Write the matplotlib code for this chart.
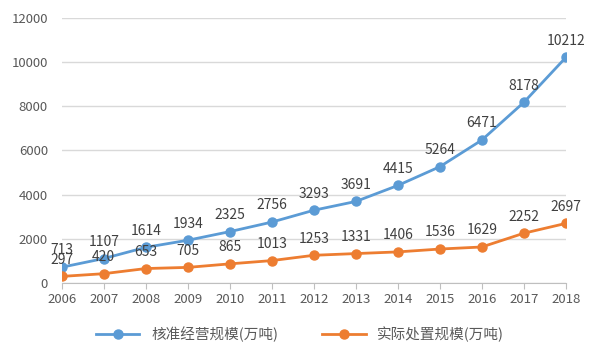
import matplotlib
matplotlib.use('Agg')
import matplotlib.pyplot as plt

plt.rcParams['font.family'] = ['Noto Sans CJK SC', 'DejaVu Sans']

years = ['2006', '2007', '2008', '2009', '2010', '2011', '2012',
         '2013', '2014', '2015', '2016', '2017', '2018']
approved = [713, 1107, 1614, 1934, 2325, 2756, 3293, 3691, 4415, 5264, 6471, 8178, 10212]
actual = [297, 420, 653, 705, 865, 1013, 1253, 1331, 1406, 1536, 1629, 2252, 2697]

blue = '#5B9BD5'
orange = '#ED7D31'
txt = '#595959'

fig = plt.figure(figsize=(6, 3.6), dpi=100)
ax = fig.add_axes([0.103, 0.214, 0.84, 0.736])

x = range(len(years))
ax.plot(x, approved, color=blue, lw=2, marker='o', ms=6.5, label='核准经营规模(万吨)')
ax.plot(x, actual, color=orange, lw=2, marker='o', ms=6.5, label='实际处置规模(万吨)')

for i in x:
    ax.annotate(str(approved[i]), (i, approved[i]), xytext=(0, 7), textcoords='offset points',
                ha='center', va='bottom', fontsize=10, color='#404040')
    ax.annotate(str(actual[i]), (i, actual[i]), xytext=(0, 7), textcoords='offset points',
                ha='center', va='bottom', fontsize=10, color='#404040')

ax.set_xlim(0, len(years) - 1)
ax.set_ylim(0, 12000)
ax.set_yticks(range(0, 12001, 2000))
ax.set_xticks(list(x))
ax.set_xticklabels(years)
ax.tick_params(axis='y', length=0, labelsize=9.5, colors=txt, pad=10)
ax.tick_params(axis='x', length=4, labelsize=9.5, colors=txt, color='#BFBFBF')
ax.grid(axis='y', color='#D9D9D9', lw=1)
ax.set_axisbelow(True)
for s in ['top', 'right', 'left']:
    ax.spines[s].set_visible(False)
ax.spines['bottom'].set_color('#BFBFBF')

fig.legend(loc='center', bbox_to_anchor=(0.5, 0.07), ncol=2, frameon=False,
           fontsize=10.5, labelcolor=txt, handlelength=3, columnspacing=3)

fig.savefig('out.png', dpi=100)
